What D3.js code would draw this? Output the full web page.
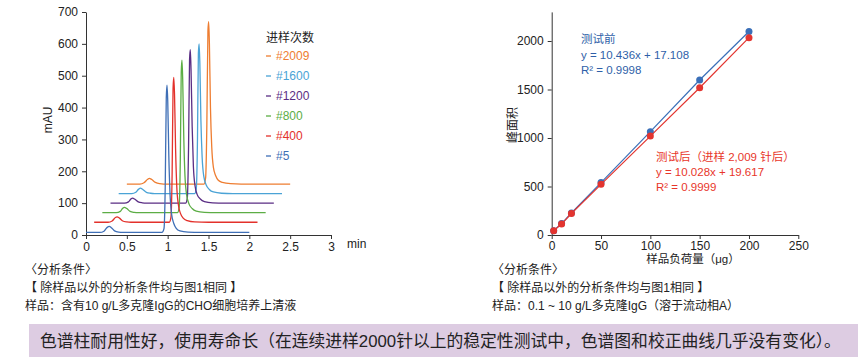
<!DOCTYPE html>
<html>
<head>
<meta charset="utf-8">
<script src="https://cdn.jsdelivr.net/npm/d3@7"></script>
<style>
  body { margin: 0; background: #fff; }
  svg { font-family: "Liberation Sans", Arial, "Noto Sans CJK SC", sans-serif; }
</style>
</head>
<body>
<div id="chart"></div>
<script>
// chromatogram traces [min, mAU]
var trace5 = [[0,8],[0.17,8],[0.22,12],[0.26,24],[0.285,27],[0.31,23],[0.35,13],[0.4,9],[0.45,8],[0.93,8],[0.955,20],[0.97,150],[0.983,430],[0.992,470],[1.001,420],[1.014,250],[1.028,135],[1.048,66],[1.075,36],[1.105,21],[1.15,13],[1.25,9],[1.4,8],[2.0,8]];
var trace400 = [[0.1,40],[0.27,40],[0.32,44],[0.36,55],[0.38,57],[0.41,53],[0.45,44],[0.5,41],[0.55,40],[1.02,40],[1.04,55],[1.055,200],[1.066,460],[1.075,495],[1.084,440],[1.097,270],[1.111,155],[1.131,95],[1.158,67],[1.19,53],[1.24,45],[1.33,41],[1.5,40],[2.1,40]];
var trace800 = [[0.2,70],[0.37,70],[0.42,74],[0.45,84],[0.47,87],[0.5,83],[0.54,74],[0.59,71],[0.64,70],[1.12,70],[1.14,85],[1.155,240],[1.166,510],[1.175,549],[1.184,490],[1.197,310],[1.212,185],[1.233,125],[1.262,97],[1.3,83],[1.35,75],[1.45,71],[1.6,70],[2.2,70]];
var trace1200 = [[0.3,100],[0.47,100],[0.52,104],[0.55,113],[0.57,116],[0.6,112],[0.64,104],[0.69,101],[0.74,100],[1.22,100],[1.24,115],[1.256,280],[1.268,550],[1.277,582],[1.286,520],[1.3,340],[1.315,215],[1.336,153],[1.363,126],[1.4,113],[1.45,105],[1.55,101],[1.7,100],[2.3,100]];
var trace1600 = [[0.4,130],[0.56,130],[0.61,134],[0.645,144],[0.665,147],[0.695,143],[0.74,134],[0.79,131],[0.84,130],[1.33,130],[1.35,145],[1.365,300],[1.376,570],[1.385,600],[1.394,540],[1.407,360],[1.422,245],[1.443,183],[1.472,157],[1.51,143],[1.56,135],[1.66,131],[1.8,130],[2.4,130]];
var trace2009 = [[0.5,160],[0.66,160],[0.71,164],[0.755,175],[0.775,178],[0.805,174],[0.85,165],[0.9,161],[0.95,160],[1.445,160],[1.465,180],[1.48,350],[1.493,640],[1.502,670],[1.511,600],[1.524,400],[1.54,275],[1.56,212],[1.588,186],[1.62,172],[1.67,165],[1.77,161],[1.9,160],[2.5,160]];

var injNames = ["#2009", "#1600", "#1200", "#800", "#400", "#5"];
var injColors = ["#ee7d31", "#4aa3d6", "#5a2d84", "#5cad45", "#e3312b", "#3f6fb6"];
var injTraces = [trace2009, trace1600, trace1200, trace800, trace400, trace5];

var timeTicks = [0, 0.5, 1, 1.5, 2, 2.5, 3];
var mauTicks = [0, 100, 200, 300, 400, 500, 600, 700];

// calibration
var loadUg = [2, 10, 20, 50, 100, 150, 200];
var areaBefore = [45, 118, 228, 540, 1065, 1598, 2098];
var areaAfter = [44, 113, 222, 522, 1020, 1518, 2034];
var loadTicks = [0, 50, 100, 150, 200, 250];
var areaTicks = [0, 500, 1000, 1500, 2000];

var textDark = "#222";

var svg = d3.select("#chart").append("svg")
  .attr("width", 868)
  .attr("height", 364);

// ---------- left: chromatograms ----------
var x1 = d3.scaleLinear().domain([0, 3]).range([86, 331]);
var y1 = d3.scaleLinear().domain([0, 700]).range([235, 12]);

var gx1 = svg.append("g")
  .attr("transform", "translate(0," + y1(0) + ")")
  .call(d3.axisBottom(x1).tickValues(timeTicks).tickFormat(d3.format("")).tickSize(4).tickSizeOuter(0).tickPadding(3));
var gy1 = svg.append("g")
  .attr("transform", "translate(" + x1(0) + ",0)")
  .call(d3.axisLeft(y1).tickValues(mauTicks).tickSize(4).tickSizeOuter(0).tickPadding(4));

[gx1, gy1].forEach(function(g){
  g.selectAll("path,line").attr("stroke", "#333");
  g.selectAll("text").attr("fill", textDark).style("font-size", "12px");
});

svg.append("text")
  .attr("x", 347).attr("y", 248)
  .attr("fill", textDark).style("font-size", "12px")
  .text("min");

svg.append("text")
  .attr("transform", "translate(52,120) rotate(-90)")
  .attr("text-anchor", "middle")
  .attr("fill", textDark).style("font-size", "12px")
  .text("mAU");

var line1 = d3.line()
  .curve(d3.curveMonotoneX)
  .x(function(d){ return x1(d[0]); })
  .y(function(d){ return y1(d[1]); });

injTraces.forEach(function(tr, i){
  svg.append("path")
    .attr("d", line1(tr))
    .attr("fill", "none")
    .attr("stroke", injColors[i])
    .attr("stroke-width", 1.3);
});

// legend
svg.append("text")
  .attr("x", 266).attr("y", 42)
  .attr("fill", textDark).style("font-size", "12px")
  .text("进样次数");

injNames.forEach(function(n, i){
  var yy = 56 + i * 20;
  svg.append("line")
    .attr("x1", 266).attr("x2", 271)
    .attr("y1", yy).attr("y2", yy)
    .attr("stroke", injColors[i]).attr("stroke-width", 1.3);
  svg.append("text")
    .attr("x", 276).attr("y", yy + 4)
    .attr("fill", injColors[i]).style("font-size", "12px")
    .text(n);
});

// ---------- right: calibration ----------
var x2 = d3.scaleLinear().domain([0, 250]).range([551.7, 798.3]);
var y2 = d3.scaleLinear().domain([0, 2300]).range([235, 11.9]);

var gx2 = svg.append("g")
  .attr("transform", "translate(0," + y2(0) + ")")
  .call(d3.axisBottom(x2).tickValues(loadTicks).tickFormat(d3.format("")).tickSize(4).tickSizeOuter(0).tickPadding(2));
var gy2 = svg.append("g")
  .attr("transform", "translate(" + x2(0) + ",0)")
  .call(d3.axisLeft(y2).tickValues(areaTicks).tickFormat(d3.format("")).tickSize(4).tickSizeOuter(0).tickPadding(4));

[gx2, gy2].forEach(function(g){
  g.selectAll("path,line").attr("stroke", "#333");
  g.selectAll("text").attr("fill", textDark).style("font-size", "12px");
});

svg.append("text")
  .attr("x", 693).attr("y", 263)
  .attr("text-anchor", "middle")
  .attr("fill", textDark).style("font-size", "11.5px")
  .text("样品负荷量（μg）");

svg.append("text")
  .attr("transform", "translate(517,125) rotate(-90)")
  .attr("text-anchor", "middle")
  .attr("fill", textDark).style("font-size", "12px")
  .text("峰面积");

var calSeries = [
  { vals: areaBefore, color: "#3a6fb8" },
  { vals: areaAfter, color: "#e3342f" }
];

var line2 = d3.line()
  .x(function(d){ return x2(d[0]); })
  .y(function(d){ return y2(d[1]); });

calSeries.forEach(function(s){
  var pts = loadUg.map(function(v, i){ return [v, s.vals[i]]; });
  svg.append("path")
    .attr("d", line2(pts))
    .attr("fill", "none")
    .attr("stroke", s.color)
    .attr("stroke-width", 1.2);
  svg.selectAll(null)
    .data(pts)
    .enter().append("circle")
    .attr("cx", function(d){ return x2(d[0]); })
    .attr("cy", function(d){ return y2(d[1]); })
    .attr("r", 3.5)
    .attr("fill", s.color);
});

var noteBefore = ["测试前", "y = 10.436x + 17.108", "R² = 0.9998"];
var noteAfter = ["测试后（进样 2,009 针后）", "y = 10.028x + 19.617", "R² = 0.9999"];

noteBefore.forEach(function(t, i){
  svg.append("text")
    .attr("x", 581).attr("y", 43 + i * 15.5)
    .attr("fill", "#2f5fa8").style("font-size", "11.5px")
    .text(t);
});
noteAfter.forEach(function(t, i){
  svg.append("text")
    .attr("x", 656).attr("y", 161 + i * 15.2)
    .attr("fill", "#e8362a").style("font-size", "11.5px")
    .text(t);
});

// ---------- captions ----------
var capLeft = ["〈分析条件〉", "【 除样品以外的分析条件均与图1相同 】", "样品：含有10 g/L多克隆IgG的CHO细胞培养上清液"];
var capRight = ["〈分析条件〉", "【 除样品以外的分析条件均与图1相同 】", "样品：0.1 ~ 10 g/L多克隆IgG（溶于流动相A）"];

capLeft.forEach(function(t, i){
  svg.append("text")
    .attr("x", 25).attr("y", 274 + i * 18)
    .attr("fill", textDark).style("font-size", "12px")
    .text(t);
});
capRight.forEach(function(t, i){
  svg.append("text")
    .attr("x", 492).attr("y", 274 + i * 18)
    .attr("fill", textDark).style("font-size", "12px")
    .text(t);
});

// ---------- conclusion band ----------
svg.append("rect")
  .attr("x", 29).attr("y", 324)
  .attr("width", 829).attr("height", 33)
  .attr("fill", "#ddcce2");

svg.append("text")
  .attr("x", 40).attr("y", 347)
  .attr("fill", textDark).style("font-size", "16.8px")
  .text("色谱柱耐用性好，使用寿命长（在连续进样2000针以上的稳定性测试中，色谱图和校正曲线几乎没有变化）。");
</script>
</body>
</html>
